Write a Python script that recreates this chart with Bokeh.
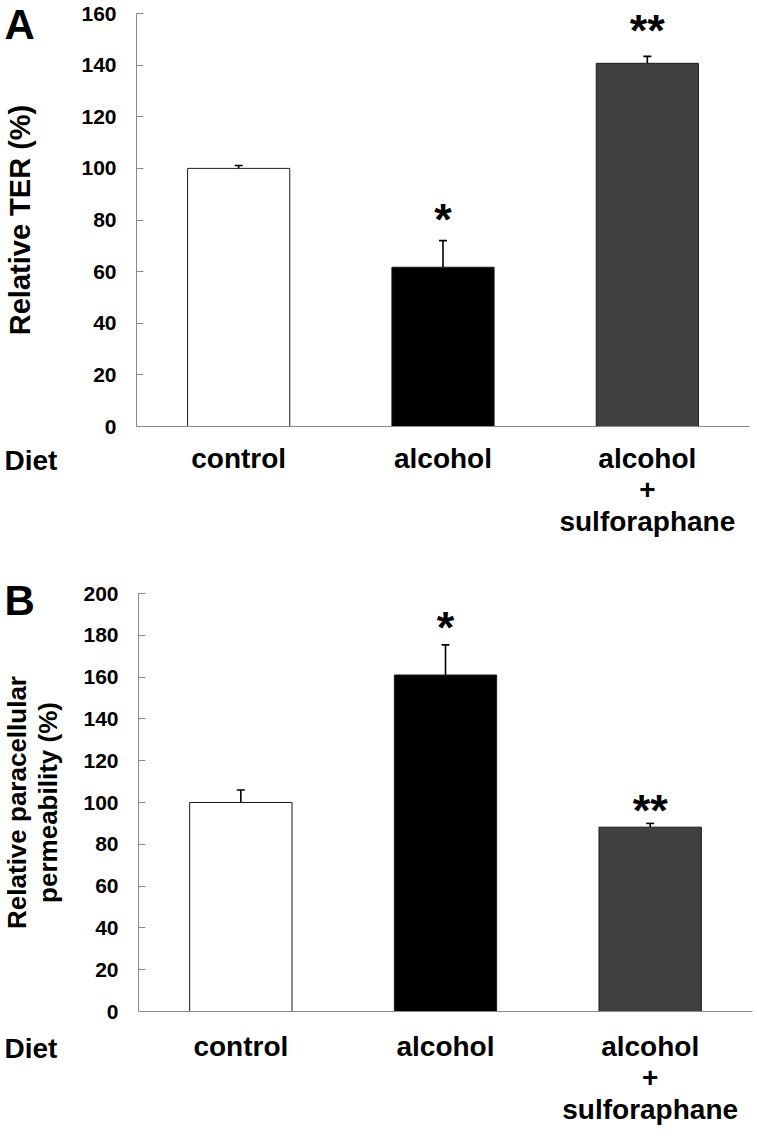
from bokeh.plotting import figure
from bokeh.models import ColumnDataSource, Range1d, Whisker, TeeHead, Label, FixedTicker
from bokeh.layouts import column
from bokeh.embed import file_html
from bokeh.resources import INLINE
from bokeh.core.properties import value

# ---------------- data ----------------
categories = ["control", "alcohol", "alcohol\n+\nsulforaphane"]
bar_colors = ["#ffffff", "#000000", "#404040"]

ter_mean = [100.0, 61.7, 140.7]
ter_err = [1.1, 10.3, 2.7]
ter_sig = ["", "*", "**"]
ter_ticks = [0, 20, 40, 60, 80, 100, 120, 140, 160]

perm_mean = [100.0, 161.0, 88.2]
perm_err = [6.0, 14.4, 1.8]
perm_sig = ["", "*", "**"]
perm_ticks = [0, 20, 40, 60, 80, 100, 120, 140, 160, 180, 200]

FONT = "Liberation Sans"
AXIS_GREY = "#8a8a8a"
FIG_W = 755


def make_panel(letter, ylabel, ylabel_size, mean, err, sig, ticks,
               fig_top, fig_bottom, axis_x, axis_right, axis_top, axis_bottom,
               x_standoff, y_label_standoff, letter_base, diet_base, star_gaps_px):
    """Geometry in page pixels."""
    ymax = ticks[-1]
    ppu_y = (axis_bottom - axis_top) / ymax
    ncat = len(categories)
    ppu_x = (axis_right - axis_x) / ncat
    x_start = -axis_x / ppu_x
    x_end = ncat + (FIG_W - axis_right) / ppu_x
    y_top = ymax + (axis_top - fig_top) / ppu_y
    y_bot = -(fig_bottom - axis_bottom) / ppu_y

    pos = [i + 0.5 for i in range(ncat)]
    upper = [m + e for m, e in zip(mean, err)]
    src = ColumnDataSource(dict(
        x=pos, mean=mean, upper=upper,
        star_y=[u + g / ppu_y for u, g in zip(upper, star_gaps_px)],
        color=bar_colors, sig=sig,
    ))
    p = figure(x_range=Range1d(x_start, x_end), y_range=Range1d(y_bot, y_top),
               width=FIG_W, height=fig_bottom - fig_top,
               min_border=0, min_border_left=0, min_border_right=0,
               min_border_top=0, min_border_bottom=0,
               output_backend="svg", toolbar_location=None,
               background_fill_color="white", border_fill_color="white")
    p.outline_line_color = None
    p.xgrid.visible = False
    p.ygrid.visible = False

    p.vbar(x="x", top="mean", width=0.5, source=src,
           fill_color="color", line_color="#1a1a1a", line_width=1)

    wh = Whisker(source=src, base="x", upper="upper", lower="mean",
                 dimension="height", line_color="black", line_width=1.6,
                 upper_head=TeeHead(size=8, line_color="black", line_width=1.6),
                 lower_head=None)
    p.add_layout(wh)

    p.text(x="x", y="star_y", text="sig", source=src,
           text_font=value(FONT), text_font_style="bold", text_font_size="45px",
           text_align="center", text_baseline="alphabetic", text_color="black")

    ya = p.yaxis[0]
    ya.fixed_location = 0
    ya.bounds = (0, ymax)
    ya.ticker = FixedTicker(ticks=ticks)
    ya.axis_line_color = AXIS_GREY
    ya.major_tick_line_color = AXIS_GREY
    ya.major_tick_in = 7
    ya.major_tick_out = 0
    ya.minor_tick_line_color = None
    ya.major_label_text_font = FONT
    ya.major_label_text_font_style = "bold"
    ya.major_label_text_font_size = "21px"
    ya.major_label_text_color = "black"
    ya.major_label_standoff = 20
    ya.axis_label = ylabel
    ya.axis_label_text_font = FONT
    ya.axis_label_text_font_style = "bold"
    ya.axis_label_text_font_size = ylabel_size
    ya.axis_label_text_color = "black"
    ya.axis_label_text_line_height = 1.05
    ya.axis_label_standoff = y_label_standoff

    xa = p.xaxis[0]
    xa.fixed_location = 0
    xa.bounds = (0, ncat)
    xa.ticker = FixedTicker(ticks=pos)
    xa.major_label_overrides = {x: c for x, c in zip(pos, categories)}
    xa.axis_line_color = AXIS_GREY
    xa.major_tick_line_color = None
    xa.minor_tick_line_color = None
    xa.major_label_text_font = FONT
    xa.major_label_text_font_style = "bold"
    xa.major_label_text_font_size = "28px"
    xa.major_label_text_color = "black"
    xa.major_label_text_line_height = 1.03
    xa.major_label_standoff = x_standoff

    left_x = x_start + 4 / ppu_x
    p.add_layout(Label(x=left_x, y=ymax - (letter_base - axis_top) / ppu_y,
                       text=letter, text_font=FONT, text_font_style="bold",
                       text_font_size="42px", text_color="black",
                       text_align="left", text_baseline="alphabetic"))
    p.add_layout(Label(x=left_x, y=-(diet_base - axis_bottom) / ppu_y,
                       text="Diet", text_font=FONT, text_font_style="bold",
                       text_font_size="28px", text_color="black",
                       text_align="left", text_baseline="alphabetic"))
    return p


pA = make_panel("A", "Relative TER (%)", "29px", ter_mean, ter_err, ter_sig, ter_ticks,
                fig_top=0, fig_bottom=556, axis_x=136, axis_right=749,
                axis_top=13, axis_bottom=426,
                x_standoff=10, y_label_standoff=42,
                letter_base=24, diet_base=460, star_gaps_px=[13, 21, 26])

pB = make_panel("B", "Relative paracellular\npermeability (%)", "26px",
                perm_mean, perm_err, perm_sig, perm_ticks,
                fig_top=556, fig_bottom=1134, axis_x=138, axis_right=752,
                axis_top=593, axis_bottom=1011,
                x_standoff=13, y_label_standoff=17,
                letter_base=600, diet_base=1048, star_gaps_px=[13, 17, 13])

layout = column(pA, pB, spacing=0)
open("out.html", "w").write(file_html(layout, INLINE))
